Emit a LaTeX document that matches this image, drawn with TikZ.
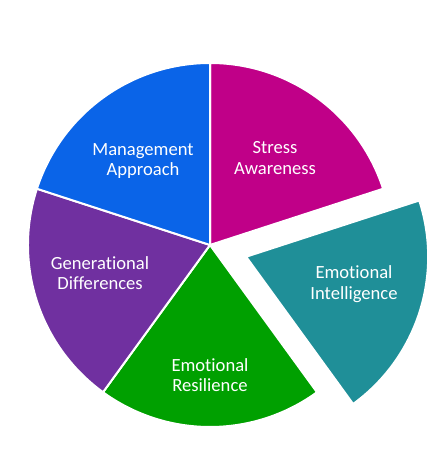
\documentclass[tikz,border=0pt]{standalone}
\usepackage{fontspec}
\setmainfont{Carlito}[Ligatures=NoCommon]

\definecolor{stressmag}{HTML}{C00088}
\definecolor{intteal}{HTML}{1F8F98}
\definecolor{resgreen}{HTML}{00A000}
\definecolor{genpurple}{HTML}{7030A0}
\definecolor{mgmtblue}{HTML}{0A64E8}

\begin{document}
\begin{tikzpicture}[x=0.5pt, y=0.5pt,
  slice/.style = {draw=white, line width=1pt},
  slicetext/.style = {text=white, align=center, font=\fontsize{9.3}{10.2}\selectfont},
  ]
  \useasboundingbox (0,0) rectangle (434,475);
  \coordinate (o) at (210,230);
  \path (o) ++(-18:38) coordinate (oe);

  % slices
  \path[slice, fill=stressmag] (o) -- ++(90:182) arc[start angle=90, end angle=18, radius=182] -- cycle;
  \path[slice, fill=intteal] (oe) -- ++(18:182) arc[start angle=18, end angle=-54, radius=182] -- cycle;
  \path[slice, fill=resgreen] (o) -- ++(-54:182) arc[start angle=-54, end angle=-126, radius=182] -- cycle;
  \path[slice, fill=genpurple] (o) -- ++(-126:182) arc[start angle=-126, end angle=-198, radius=182] -- cycle;
  \path[slice, fill=mgmtblue] (o) -- ++(162:182) arc[start angle=162, end angle=90, radius=182] -- cycle;

  % labels
  \node[slicetext] (stress) at (275,317) {Stress\\Awareness};
  \node[slicetext] (intel) at (354,191) {Emotional\\Intelligence};
  \node[slicetext] (resil) at (210,100) {Emotional\\Resilience};
  \node[slicetext] (gener) at (100,202) {Generational\\Differences};
  \node[slicetext] (mgmt) at (143,314) {Management\\Approach};
\end{tikzpicture}
\end{document}
